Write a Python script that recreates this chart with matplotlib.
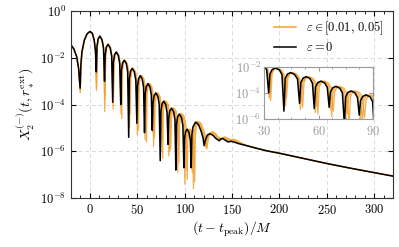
import matplotlib
matplotlib.use("Agg")
import matplotlib.pyplot as plt
import numpy as np

plt.rcParams.update({
    "font.family": "serif",
    "font.serif": ["cmr10", "DejaVu Serif"],
    "mathtext.fontset": "cm",
    "axes.formatter.use_mathtext": True,
    "font.size": 9,
})

# (t - t_peak)/M , log10 |X|
# epsilon = 0 (black)
black = [
    (-20, -1.45), (-17, -1.62), (-14, -1.95), (-12, -2.45), (-10.4, -3.3),
    (-9.6, -2.3), (-8.5, -1.75), (-6, -1.25), (-3, -0.97), (0, -0.87),
    (2.5, -0.95), (4.5, -1.25), (5.8, -1.7), (6.7, -2.6),
    (7.4, -1.52), (8.6, -1.19), (10.4, -1.07), (12.6, -1.22), (14.3, -1.57), (15.4, -3.0),
    (16.1, -1.87), (17.3, -1.54), (19.1, -1.42), (21.3, -1.57), (22.9, -1.92), (24.0, -3.9),
    (24.7, -2.2), (25.9, -1.87), (27.7, -1.75), (29.9, -1.9), (31.4, -2.25), (32.5, -4.0),
    (33.2, -2.55), (34.4, -2.22), (36.2, -2.1), (38.4, -2.25), (39.8, -2.6), (40.9, -5.4),
    (41.6, -2.9), (42.8, -2.57), (44.6, -2.45), (46.8, -2.6), (48.4, -2.95), (49.5, -4.8),
    (50.2, -3.21), (51.4, -2.88), (53.2, -2.76), (55.2, -2.91), (56.6, -3.26), (57.6, -5.2),
    (58.3, -3.55), (59.5, -3.22), (61.3, -3.1), (63.4, -3.25), (64.8, -3.6), (65.8, -5.1),
    (66.5, -3.95), (67.7, -3.62), (69.5, -3.5), (71.7, -3.65), (73.1, -4.0), (74.2, -6.4),
    (74.9, -4.3), (76.1, -3.97), (77.9, -3.85), (80.0, -4.0), (81.4, -4.35), (82.4, -5.7),
    (83.1, -4.6), (84.3, -4.27), (86.1, -4.15), (88.3, -4.3), (89.7, -4.65), (90.7, -6.8),
    (91.4, -4.85), (92.6, -4.52), (94.4, -4.4), (96.6, -4.55), (98.1, -4.9), (99.2, -6.7),
    (99.9, -5.45), (101.0, -5.15), (102.6, -5.05), (104.6, -5.2), (106.0, -5.55), (106.9, -6.7),
    (107.6, -5.3), (108.8, -4.95), (111.5, -4.75), (114.5, -4.85), (117.5, -5.15), (119.5, -5.45),
    (120.5, -5.75), (122, -5.5), (124, -5.3), (127, -5.25), (130, -5.32), (133, -5.45),
    (136.5, -5.55), (138, -5.47), (140, -5.45), (142, -5.5), (146, -5.6), (149, -5.57),
    (152, -5.6), (157, -5.67),
]

# late-time tail, shared by all curves
tail = [
    (165, -5.75), (175, -5.86), (187, -5.98), (200, -6.08), (225, -6.3),
    (250, -6.52), (275, -6.72), (300, -6.91), (320, -7.06),
]

# epsilon in [0.01, 0.05] (orange), three members of the family
eps_a = [
    (-20, -1.45), (-17, -1.62), (-14, -1.95), (-12, -2.45), (-10.3, -3.5),
    (-9.5, -2.3), (-8.5, -1.75), (-6, -1.25), (-3, -0.97), (0, -0.87),
    (2.5, -0.95), (4.5, -1.25), (5.8, -1.7), (6.8, -3.4),
    (7.6, -1.49), (8.8, -1.17), (10.5, -1.07), (12.7, -1.22), (14.3, -1.57), (15.6, -4.3),
    (16.4, -1.84), (17.6, -1.52), (19.3, -1.42), (21.5, -1.57), (23.0, -1.92), (24.2, -3.6),
    (25.0, -2.17), (26.2, -1.85), (27.9, -1.75), (30.1, -1.9), (31.6, -2.25), (32.8, -4.4),
    (33.6, -2.52), (34.8, -2.2), (36.5, -2.1), (38.7, -2.25), (40.1, -2.6), (41.3, -4.6),
    (42.1, -2.87), (43.3, -2.55), (45.0, -2.45), (47.2, -2.6), (48.8, -2.95), (50.0, -5.3),
    (50.8, -3.18), (52.0, -2.86), (53.7, -2.76), (55.8, -2.91), (57.0, -3.26), (58.2, -5.5),
    (59.0, -3.52), (60.2, -3.2), (61.9, -3.1), (64.0, -3.25), (65.3, -3.6), (66.5, -5.2),
    (67.3, -3.92), (68.5, -3.6), (70.2, -3.5), (72.4, -3.65), (73.7, -4.0), (74.9, -6.0),
    (75.7, -4.27), (76.9, -3.95), (78.6, -3.85), (80.7, -4.0), (82.0, -4.35), (83.2, -6.2),
    (84.0, -4.57), (85.2, -4.25), (86.9, -4.15), (89.1, -4.3), (90.4, -4.65), (91.6, -6.3),
    (92.4, -4.82), (93.6, -4.5), (95.3, -4.4), (97.5, -4.55), (99.0, -4.9), (100.2, -7.4),
    (100.9, -5.45), (102.0, -5.15), (103.6, -5.05), (105.6, -5.2), (106.9, -5.55), (108.0, -6.9),
    (108.7, -5.3), (109.9, -4.95), (112.5, -4.73), (115.5, -4.83), (118.5, -5.12), (120.5, -5.45),
    (121.5, -5.8), (123, -5.45), (125, -5.25), (128, -5.2), (131, -5.28), (134, -5.42),
    (137.5, -5.52), (139, -5.44), (141, -5.42), (143, -5.47), (147, -5.55), (150, -5.53),
    (153, -5.57), (157, -5.64),
]

eps_b = [
    (-20, -1.45), (-17, -1.62), (-14, -1.95), (-12, -2.45), (-10.2, -3.4),
    (-9.4, -2.3), (-8.4, -1.75), (-6, -1.25), (-3, -0.97), (0, -0.87),
    (2.5, -0.95), (4.5, -1.25), (5.9, -1.7), (6.9, -3.0),
    (7.7, -1.49), (8.9, -1.17), (10.6, -1.07), (12.8, -1.22), (14.2, -1.57), (15.7, -3.8),
    (16.5, -1.84), (17.7, -1.52), (19.4, -1.42), (21.6, -1.57), (23.0, -1.92), (24.5, -4.2),
    (25.3, -2.17), (26.5, -1.85), (28.2, -1.75), (30.4, -1.9), (31.8, -2.25), (33.2, -4.0),
    (34.0, -2.52), (35.2, -2.2), (36.9, -2.1), (39.1, -2.25), (40.5, -2.6), (41.8, -5.0),
    (42.6, -2.87), (43.8, -2.55), (45.5, -2.45), (47.7, -2.6), (49.1, -2.95), (50.6, -4.6),
    (51.4, -3.18), (52.6, -2.86), (54.3, -2.76), (56.5, -2.91), (57.9, -3.26), (58.9, -5.0),
    (59.7, -3.52), (60.9, -3.2), (62.6, -3.1), (64.8, -3.25), (66.1, -3.6), (67.2, -5.8),
    (68.0, -3.92), (69.2, -3.6), (70.9, -3.5), (73.1, -3.65), (74.5, -4.0), (75.8, -5.6),
    (76.6, -4.27), (77.8, -3.95), (79.5, -3.85), (81.7, -4.0), (83.0, -4.35), (84.2, -6.0),
    (85.0, -4.57), (86.2, -4.25), (87.9, -4.15), (90.1, -4.3), (91.4, -4.65), (92.7, -6.9),
    (93.5, -4.82), (94.7, -4.5), (96.4, -4.4), (98.6, -4.55), (100.1, -4.9), (101.4, -6.8),
    (102.1, -5.45), (103.2, -5.15), (104.8, -5.05), (106.8, -5.2), (108.2, -5.55), (109.3, -7.6),
    (110.0, -5.3), (111.2, -4.95), (113.5, -4.72), (116.3, -4.82), (119.3, -5.1), (121.5, -5.45),
    (122.5, -5.85), (124, -5.45), (126, -5.25), (129, -5.18), (132, -5.27), (135, -5.42),
    (138.5, -5.5), (140, -5.42), (142, -5.4), (144, -5.45), (148, -5.52), (151, -5.5),
    (154, -5.55), (158, -5.63),
]

eps_c = [
    (-20, -1.45), (-17, -1.62), (-14, -1.95), (-12, -2.45), (-10.1, -3.2),
    (-9.3, -2.3), (-8.3, -1.75), (-6, -1.25), (-3, -0.97), (0, -0.87),
    (2.5, -0.95), (4.6, -1.25), (6.0, -1.7), (7.0, -3.3),
    (7.8, -1.49), (9.0, -1.17), (10.7, -1.07), (12.9, -1.22), (14.4, -1.57), (15.9, -3.6),
    (16.7, -1.84), (17.9, -1.52), (19.6, -1.42), (21.8, -1.57), (23.3, -1.92), (24.8, -3.9),
    (25.6, -2.17), (26.8, -1.85), (28.5, -1.75), (30.7, -1.9), (32.2, -2.25), (33.6, -4.6),
    (34.4, -2.52), (35.6, -2.2), (37.3, -2.1), (39.5, -2.25), (41.0, -2.6), (42.3, -4.4),
    (43.1, -2.87), (44.3, -2.55), (46.0, -2.45), (48.2, -2.6), (49.7, -2.95), (51.2, -5.1),
    (52.0, -3.18), (53.2, -2.86), (54.9, -2.76), (57.1, -2.91), (58.5, -3.26), (59.6, -5.6),
    (60.4, -3.52), (61.6, -3.2), (63.3, -3.1), (65.5, -3.25), (66.9, -3.6), (68.1, -5.4),
    (68.9, -3.92), (70.1, -3.6), (71.8, -3.5), (74.0, -3.65), (75.5, -4.0), (76.8, -6.3),
    (77.6, -4.27), (78.8, -3.95), (80.5, -3.85), (82.7, -4.0), (84.1, -4.35), (85.3, -5.9),
    (86.1, -4.57), (87.3, -4.25), (89.0, -4.15), (91.2, -4.3), (92.6, -4.65), (93.9, -6.5),
    (94.7, -4.82), (95.9, -4.5), (97.6, -4.4), (99.8, -4.55), (101.4, -4.9), (102.7, -7.2),
    (103.4, -5.45), (104.5, -5.15), (106.1, -5.05), (108.1, -5.2), (109.5, -5.55), (110.6, -7.3),
    (111.3, -5.3), (112.5, -4.95), (114.6, -4.72), (117.3, -4.8), (120.2, -5.1), (122.5, -5.45),
    (123.5, -5.9), (125, -5.45), (127, -5.22), (130, -5.16), (133, -5.25), (136, -5.4),
    (139.5, -5.48), (141, -5.4), (143, -5.38), (145, -5.43), (149, -5.5), (152, -5.48),
    (155, -5.53), (159, -5.62),
]

ORANGE = "#f2a12e"


def curve(points):
    t, lx = np.array(points + tail).T
    return t, 10.0 ** lx


def style_axes(ax, color="#333333"):
    ax.tick_params(which="both", direction="in", top=True, right=True, colors=color)
    for s in ax.spines.values():
        s.set_color(color)


fig = plt.figure(figsize=(3.99, 2.47), dpi=100)
ax = fig.add_axes([0.178, 0.198, 0.807, 0.757])

for pts in (eps_a, eps_b, eps_c):
    t, x = curve(pts)
    ax.plot(t, x, color=ORANGE, lw=0.9, alpha=0.85)
t, x = curve(black)
ax.plot(t, x, color="black", lw=1.1)

# legend handles
ax.plot([], [], color=ORANGE, lw=1.1, label=r"$\varepsilon \in [0.01,\, 0.05]$")
ax.plot([], [], color="black", lw=1.1, label=r"$\varepsilon = 0$")
handles, labels = ax.get_legend_handles_labels()
ax.legend(handles[-2:], labels[-2:], loc="upper right", frameon=False,
          fontsize=9, handlelength=1.8, borderaxespad=0.3, labelspacing=0.3)

ax.set_yscale("log")
ax.set_xlim(-20, 320)
ax.set_ylim(1e-8, 1)
ax.set_yticks([1e-8, 1e-6, 1e-4, 1e-2, 1])
ax.yaxis.set_minor_locator(matplotlib.ticker.NullLocator())
ax.set_xticks([0, 50, 100, 150, 200, 250, 300])
ax.xaxis.set_minor_locator(matplotlib.ticker.MultipleLocator(10))
ax.grid(True, which="major", ls=(0, (4, 3)), color="#d8d8d8", lw=0.7)
style_axes(ax)
ax.tick_params(colors="black", which="both")
ax.tick_params(which="major", length=3.5)
ax.tick_params(which="minor", length=2)
ax.set_xlabel(r"$(t - t_{\rm peak})/M$", fontsize=10, labelpad=2)
ax.set_ylabel(r"$X_2^{(-)}(t, r_*^{\rm ext})$", fontsize=10, labelpad=2)

# zoomed inset
ins = fig.add_axes([0.662, 0.518, 0.273, 0.212])
for pts in (eps_a, eps_b, eps_c):
    t, x = curve(pts)
    ins.plot(t, x, color=ORANGE, lw=0.9, alpha=0.85)
t, x = curve(black)
ins.plot(t, x, color="black", lw=1.1)
ins.set_yscale("log")
ins.set_xlim(30, 90)
ins.set_ylim(1e-6, 1e-2)
ins.set_xticks([30, 60, 90])
ins.xaxis.set_minor_locator(matplotlib.ticker.MultipleLocator(7.5))
ins.set_yticks([1e-6, 1e-4, 1e-2])
ins.yaxis.set_minor_locator(matplotlib.ticker.NullLocator())
ins.tick_params(which="major", length=3)
ins.tick_params(which="minor", length=1.5)
style_axes(ins, "#9a9a9a")
ins.tick_params(axis="y", labelsize=9, pad=2)
ins.tick_params(axis="x", labelsize=9, pad=4)

fig.savefig("out.png", dpi=100)
